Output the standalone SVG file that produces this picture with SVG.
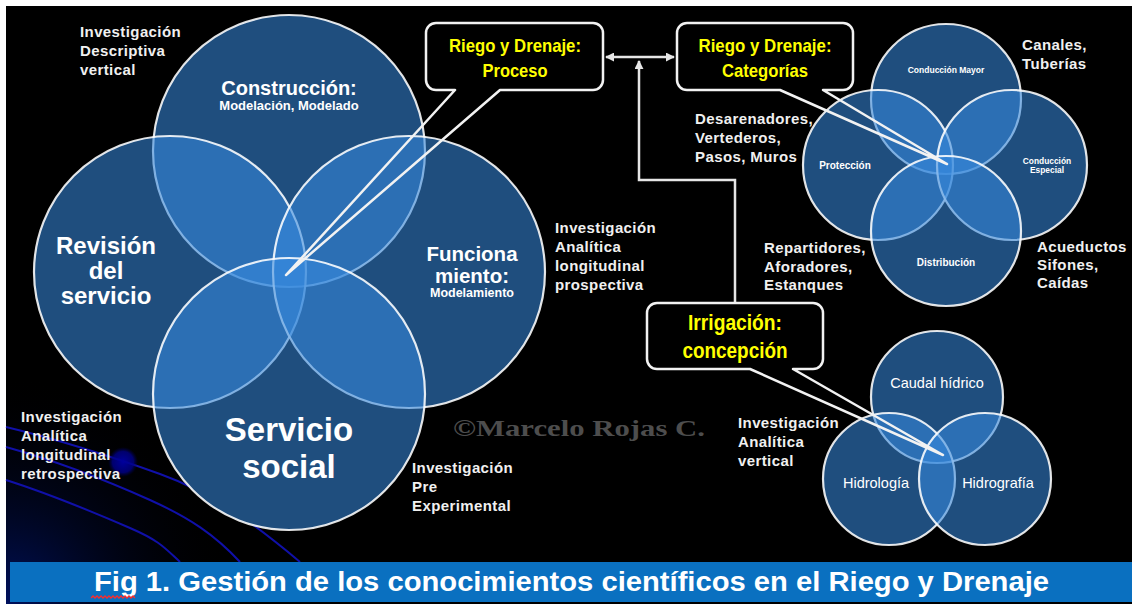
<svg xmlns="http://www.w3.org/2000/svg" width="1132" height="604" viewBox="0 0 1132 604">
<style>
.under{fill:#000}
.venn{fill:#368ade;fill-opacity:0.57;stroke:#ffffff;stroke-opacity:0.88;stroke-width:2.2}
.lbl{font-family:"Liberation Sans",Arial,sans-serif;font-weight:bold;font-size:15px;fill:#f0f0f0;letter-spacing:0.4px}
.big{font-family:"Liberation Sans",Arial,sans-serif;font-weight:bold;fill:#ffffff;text-anchor:middle}
.sm{font-family:"Liberation Sans",Arial,sans-serif;fill:#ffffff;text-anchor:middle}
.yl{font-family:"Liberation Sans Narrow","Liberation Sans",Arial,sans-serif;font-weight:bold;fill:#ffff00;text-anchor:middle}
.cbox{fill:#000}
.callout{fill:none;stroke:#f2f2f2;stroke-width:2.5;stroke-linejoin:round}
.conn{fill:none;stroke:#e6e6e6;stroke-width:2.5}
.deco{fill:none;stroke:#1010a8;stroke-width:2}
</style>
<defs>
<radialGradient id="glow" cx="6" cy="604" r="230" gradientUnits="userSpaceOnUse">
<stop offset="0" stop-color="#00115e"/>
<stop offset="1" stop-color="#000000" stop-opacity="0"/>
</radialGradient>
<radialGradient id="dot" cx="0.5" cy="0.5" r="0.5">
<stop offset="0" stop-color="#00009c"/>
<stop offset="0.7" stop-color="#000088" stop-opacity="0.8"/>
<stop offset="1" stop-color="#000050" stop-opacity="0"/>
</radialGradient>
<marker id="ah" viewBox="0 0 10 10" refX="9" refY="5" markerWidth="9" markerHeight="9" markerUnits="userSpaceOnUse" orient="auto-start-reverse">
<path d="M0,0 L10,5 L0,10 Z" fill="#e6e6e6"/>
</marker>
</defs>

<rect x="0" y="0" width="1132" height="604" fill="#ffffff"/>
<rect x="6" y="6" width="1126" height="598" fill="#000000"/>
<rect x="6" y="300" width="320" height="304" fill="url(#glow)"/>
<g id="decoration">
<path class="deco" d="M6,427 C60,440 110,456 160,474 S250,520 300,562"/>
<path class="deco" d="M6,447 C60,462 110,482 150,500 S215,535 240,562"/>
<path class="deco" d="M6,480 C50,494 100,515 130,528 S165,548 180,562"/>
<circle cx="123" cy="462" r="15" fill="url(#dot)"/>
</g>

<g id="main-venn">
<ellipse class="under" cx="289" cy="151" rx="136" ry="136"/>
<ellipse class="under" cx="170" cy="272" rx="136" ry="136"/>
<ellipse class="under" cx="409" cy="272" rx="136" ry="136"/>
<ellipse class="under" cx="289" cy="394" rx="136" ry="136"/>
<g id="construccion">
<ellipse class="venn" cx="289" cy="151" rx="136" ry="136"/>
</g>
<g id="revision">
<ellipse class="venn" cx="170" cy="272" rx="136" ry="136"/>
</g>
<g id="funcionamiento">
<ellipse class="venn" cx="409" cy="272" rx="136" ry="136"/>
</g>
<g id="servicio-social">
<ellipse class="venn" cx="289" cy="394" rx="136" ry="136"/>
</g>
<text class="big" x="289" y="95" font-size="20">Construcción:</text>
<text class="big" x="289" y="110" font-size="13">Modelación, Modelado</text>
<text class="big" x="106" y="254" font-size="24">Revisión</text>
<text class="big" x="106" y="279" font-size="24">del</text>
<text class="big" x="106" y="304" font-size="24">servicio</text>
<text class="big" x="472" y="261" font-size="20.5">Funciona</text>
<text class="big" x="472" y="283" font-size="20.5">miento:</text>
<text class="big" x="472" y="297" font-size="12.5">Modelamiento</text>
<text class="big" x="289" y="441" font-size="33">Servicio</text>
<text class="big" x="289" y="478" font-size="33">social</text>
</g>

<g id="cat-venn">
<circle class="under" cx="946" cy="99" r="75"/>
<circle class="under" cx="878" cy="165" r="75"/>
<circle class="under" cx="1012" cy="165" r="75"/>
<circle class="under" cx="946" cy="231" r="75"/>
<g id="conduccion-mayor"><circle class="venn" cx="946" cy="99" r="75"/></g>
<g id="proteccion"><circle class="venn" cx="878" cy="165" r="75"/></g>
<g id="conduccion-especial"><circle class="venn" cx="1012" cy="165" r="75"/></g>
<g id="distribucion"><circle class="venn" cx="946" cy="231" r="75"/></g>
<text class="big" x="946" y="73" font-size="8.5">Conducción Mayor</text>
<text class="big" x="845" y="169" font-size="10">Protección</text>
<text class="big" x="1047" y="164" font-size="8.4">Conducción</text>
<text class="big" x="1047" y="173" font-size="8.4">Especial</text>
<text class="big" x="946" y="266" font-size="10">Distribución</text>
</g>

<g id="irrig-venn">
<circle class="under" cx="937" cy="397" r="66"/>
<circle class="under" cx="889" cy="479" r="66"/>
<circle class="under" cx="985" cy="479" r="66"/>
<g id="caudal"><circle class="venn" cx="937" cy="397" r="66"/></g>
<g id="hidrologia"><circle class="venn" cx="889" cy="479" r="66"/></g>
<g id="hidrografia"><circle class="venn" cx="985" cy="479" r="66"/></g>
<text class="sm" x="937" y="388" font-size="14.5">Caudal hídrico</text>
<text class="sm" x="876" y="488" font-size="14.5">Hidrología</text>
<text class="sm" x="998" y="488" font-size="14.5">Hidrografía</text>
</g>

<g id="connectors">
<line class="conn" x1="606" y1="57" x2="674" y2="57" marker-start="url(#ah)" marker-end="url(#ah)"/>
<path class="conn" d="M735,303 V180 H639 V61" marker-end="url(#ah)"/>
</g>

<g id="callout-proceso">
<rect class="cbox" x="426" y="23" width="177" height="67" rx="10"/>
<path class="callout" d="M436,23 H593 A10,10 0 0 1 603,33 V80 A10,10 0 0 1 593,90 H500 L286,275 L455,90 H436 A10,10 0 0 1 426,80 V33 A10,10 0 0 1 436,23 Z"/>
<text class="yl" x="515" y="52" font-size="19" textLength="132" lengthAdjust="spacingAndGlyphs">Riego y Drenaje:</text>
<text class="yl" x="515" y="77" font-size="19" textLength="65" lengthAdjust="spacingAndGlyphs">Proceso</text>
</g>

<g id="callout-categorias">
<rect class="cbox" x="677" y="23" width="176" height="67" rx="10"/>
<path class="callout" d="M687,23 H843 A10,10 0 0 1 853,33 V80 A10,10 0 0 1 843,90 H823 L947,164 L780,90 H687 A10,10 0 0 1 677,80 V33 A10,10 0 0 1 687,23 Z"/>
<text class="yl" x="765" y="52" font-size="19" textLength="133" lengthAdjust="spacingAndGlyphs">Riego y Drenaje:</text>
<text class="yl" x="765" y="77" font-size="19" textLength="86" lengthAdjust="spacingAndGlyphs">Categorías</text>
</g>

<g id="callout-irrigacion">
<rect class="cbox" x="647" y="303" width="176" height="66" rx="10"/>
<path class="callout" d="M657,303 H813 A10,10 0 0 1 823,313 V359 A10,10 0 0 1 813,369 H793 L943,455 L750,369 H657 A10,10 0 0 1 647,359 V313 A10,10 0 0 1 657,303 Z"/>
<text class="yl" x="735" y="330" font-size="22" textLength="94" lengthAdjust="spacingAndGlyphs">Irrigación:</text>
<text class="yl" x="735" y="358" font-size="22" textLength="105" lengthAdjust="spacingAndGlyphs">concepción</text>
</g>

<g id="labels">
<text class="lbl" x="80" y="37">Investigación</text>
<text class="lbl" x="80" y="56">Descriptiva</text>
<text class="lbl" x="80" y="75">vertical</text>
<text class="lbl" x="21" y="422">Investigación</text>
<text class="lbl" x="21" y="441">Analítica</text>
<text class="lbl" x="21" y="460">longitudinal</text>
<text class="lbl" x="21" y="479">retrospectiva</text>
<text class="lbl" x="412" y="473">Investigación</text>
<text class="lbl" x="412" y="492">Pre</text>
<text class="lbl" x="412" y="511">Experimental</text>
<text class="lbl" x="555" y="233">Investigación</text>
<text class="lbl" x="555" y="252">Analítica</text>
<text class="lbl" x="555" y="271">longitudinal</text>
<text class="lbl" x="555" y="290">prospectiva</text>
<text class="lbl" x="695" y="124">Desarenadores,</text>
<text class="lbl" x="695" y="143">Vertederos,</text>
<text class="lbl" x="695" y="162">Pasos, Muros</text>
<text class="lbl" x="1022" y="50">Canales,</text>
<text class="lbl" x="1022" y="69">Tuberías</text>
<text class="lbl" x="764" y="253">Repartidores,</text>
<text class="lbl" x="764" y="272">Aforadores,</text>
<text class="lbl" x="764" y="290">Estanques</text>
<text class="lbl" x="1037" y="252">Acueductos</text>
<text class="lbl" x="1037" y="270">Sifones,</text>
<text class="lbl" x="1037" y="288">Caídas</text>
<text class="lbl" x="738" y="428">Investigación</text>
<text class="lbl" x="738" y="447">Analítica</text>
<text class="lbl" x="738" y="466">vertical</text>
<text x="453" y="436" font-family="'Liberation Serif','Times New Roman',serif" font-weight="bold" font-size="23" fill="#4d4d4d" textLength="252" lengthAdjust="spacingAndGlyphs">©Marcelo Rojas C.</text>
</g>

<g id="caption">
<rect x="10" y="562" width="1122" height="40" fill="#0a70c0"/>
<text x="94" y="591" font-family="'Liberation Sans',Arial,sans-serif" font-weight="bold" font-size="27" fill="#ffffff" textLength="955" lengthAdjust="spacingAndGlyphs">Fig 1. Gestión de los conocimientos científicos en el Riego y Drenaje</text>
<path d="M91,598 l2,-2 l2,2 l2,-2 l2,2 l2,-2 l2,2 l2,-2 l2,2 l2,-2 l2,2 l2,-2 l2,2 l2,-2 l2,2 l2,-2 l2,2 l2,-2 l2,2 l2,-2 l2,2 l2,-2 l2,2" fill="none" stroke="#ff2a2a" stroke-width="1.3"/>
</g>
</svg>
